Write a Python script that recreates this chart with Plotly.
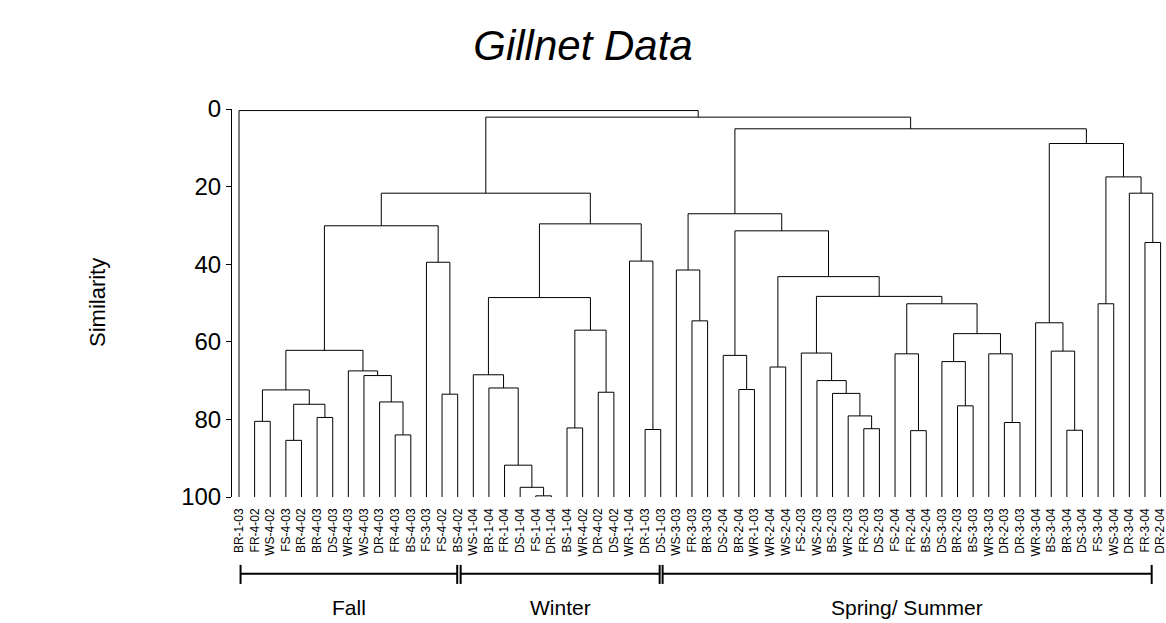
import plotly.graph_objects as go

# ---------------- data ----------------
leaf_labels = [
    "BR-1-03", "FR-4-02", "WS-4-02", "FS-4-03", "BR-4-02", "BR-4-03", "DS-4-03", "WR-4-03",
    "WS-4-03", "DR-4-03", "FR-4-03", "BS-4-03", "FS-3-03", "FS-4-02", "BS-4-02",
    "WS-1-04", "BR-1-04", "FR-1-04", "DS-1-04", "FS-1-04", "DR-1-04", "BS-1-04", "WR-4-02",
    "DR-4-02", "DS-4-02", "WR-1-04", "DR-1-03", "DS-1-03",
    "WS-3-03", "FR-3-03", "BR-3-03", "DS-2-04", "BR-2-04", "WR-1-03", "WR-2-04", "WS-2-04",
    "FS-2-03", "WS-2-03", "BS-2-03", "WR-2-03", "FR-2-03", "DS-2-03", "FS-2-04", "FR-2-04",
    "BS-2-04", "DS-3-03", "BR-2-03", "BS-3-03", "WR-3-03", "DR-2-03", "DR-3-03", "WR-3-04",
    "BS-3-04", "BR-3-04", "DS-3-04", "FS-3-04", "WS-3-04", "DR-3-04", "FR-3-04", "DR-2-04",
]

# merges: (left, right, similarity height); str = leaf label, int = earlier merge index
merges = [
    ("FR-4-02", "WS-4-02", 80.5),   # 0
    ("FS-4-03", "BR-4-02", 85.4),   # 1
    ("BR-4-03", "DS-4-03", 79.5),   # 2
    (1, 2, 76.1),                   # 3
    (0, 3, 72.4),                   # 4
    ("FR-4-03", "BS-4-03", 84.0),   # 5
    ("DR-4-03", 5, 75.5),           # 6
    ("WS-4-03", 6, 68.7),           # 7
    ("WR-4-03", 7, 67.5),           # 8
    (4, 8, 62.2),                   # 9
    ("FS-4-02", "BS-4-02", 73.5),   # 10
    ("FS-3-03", 10, 39.5),          # 11
    (9, 11, 30.1),                  # 12
    ("FS-1-04", "DR-1-04", 99.7),   # 13
    ("DS-1-04", 13, 97.5),          # 14
    ("FR-1-04", 14, 91.8),          # 15
    ("BR-1-04", 15, 71.9),          # 16
    ("WS-1-04", 16, 68.5),          # 17
    ("BS-1-04", "WR-4-02", 82.2),   # 18
    ("DR-4-02", "DS-4-02", 73.0),   # 19
    (18, 19, 57.0),                 # 20
    (17, 20, 48.6),                 # 21
    ("DR-1-03", "DS-1-03", 82.6),   # 22
    ("WR-1-04", 22, 39.2),          # 23
    (21, 23, 29.6),                 # 24
    (12, 24, 21.7),                 # 25
    ("FR-3-03", "BR-3-03", 54.6),   # 26
    ("WS-3-03", 26, 41.5),          # 27
    ("BR-2-04", "WR-1-03", 72.3),   # 28
    ("DS-2-04", 28, 63.5),          # 29
    ("WR-2-04", "WS-2-04", 66.5),   # 30
    ("FR-2-03", "DS-2-03", 82.4),   # 31
    ("WR-2-03", 31, 79.1),          # 32
    ("BS-2-03", 32, 73.3),          # 33
    ("WS-2-03", 33, 70.0),          # 34
    ("FS-2-03", 34, 62.9),          # 35
    ("FR-2-04", "BS-2-04", 82.9),   # 36
    ("FS-2-04", 36, 63.1),          # 37
    ("BR-2-03", "BS-3-03", 76.5),   # 38
    ("DS-3-03", 38, 65.1),          # 39
    ("DR-2-03", "DR-3-03", 80.8),   # 40
    ("WR-3-03", 40, 63.1),          # 41
    (39, 41, 57.9),                 # 42
    (37, 42, 50.2),                 # 43
    (35, 43, 48.3),                 # 44
    (30, 44, 43.2),                 # 45
    (29, 45, 31.4),                 # 46
    (27, 46, 27.0),                 # 47
    ("BR-3-04", "DS-3-04", 82.8),   # 48
    ("BS-3-04", 48, 62.4),          # 49
    ("WR-3-04", 49, 55.1),          # 50
    ("FS-3-04", "WS-3-04", 50.2),   # 51
    ("FR-3-04", "DR-2-04", 34.4),   # 52
    ("DR-3-04", 52, 21.7),          # 53
    (51, 53, 17.5),                 # 54
    (50, 54, 8.9),                  # 55
    (47, 55, 5.1),                  # 56
    (25, 56, 2.1),                  # 57
    ("BR-1-03", 57, 0.4),           # 58
]

group_names = ["Fall", "Winter", "Spring/ Summer"]
group_first = ["BR-1-03", "WS-1-04", "WS-3-03"]
group_last = ["BS-4-02", "DS-1-03", "DR-2-04"]

y_ticks = [0, 20, 40, 60, 80, 100]

# ---------------- build dendrogram segments ----------------
leaf_pos = {lab: i for i, lab in enumerate(leaf_labels)}
node_x, node_h = [], []


def child(c):
    if isinstance(c, str):
        return leaf_pos[c], 100.0
    return node_x[c], node_h[c]


xs, ys = [], []
for left, right, h in merges:
    lx, lh = child(left)
    rx, rh = child(right)
    xs += [lx, lx, rx, rx, None]
    ys += [lh, h, h, rh, None]
    node_x.append((lx + rx) / 2)
    node_h.append(h)

FONT = "Liberation Sans, Arial, sans-serif"

fig = go.Figure()
fig.add_trace(go.Scatter(
    x=xs, y=ys, mode="lines",
    line=dict(color="black", width=1),
    hoverinfo="skip", showlegend=False, cliponaxis=False,
))

W, H = 1166, 623
m_l, m_r, m_t, m_b = 232, 0, 109.3, 126.3
px_per_unit = 15.62
x0 = (m_l - 239) / px_per_unit
x1 = x0 + (W - m_l - m_r) / px_per_unit
plot_w = W - m_l - m_r
plot_h = H - m_t - m_b


def ypaper(py):
    return (H - m_b - py) / plot_h


def xpaper(px):
    return (px - m_l) / plot_w


# group brackets (start/end offsets relative to first/last leaf of each group)
offs = [(0.1, -0.03), (-0.81, -0.07), (-0.88, -0.57)]
for name, a, b, (oa, ob) in zip(group_names, group_first, group_last, offs):
    xa = leaf_pos[a] + oa
    xb = leaf_pos[b] + ob
    fig.add_shape(type="line", xref="x", yref="paper", x0=xa, x1=xb,
                  y0=ypaper(573.3), y1=ypaper(573.3), line=dict(color="black", width=2))
    for xe in (xa, xb):
        fig.add_shape(type="line", xref="x", yref="paper", x0=xe, x1=xe,
                      y0=ypaper(564.5), y1=ypaper(583.5), line=dict(color="black", width=2))
    fig.add_annotation(x=(xa + xb) / 2, y=ypaper(607), xref="x", yref="paper",
                       text=name, showarrow=False, xanchor="center", yanchor="middle",
                       font=dict(family=FONT, size=21, color="black"))

fig.add_annotation(x=xpaper(97), y=ypaper(303), xref="paper", yref="paper",
                   text="Similarity", textangle=-90, showarrow=False,
                   xanchor="center", yanchor="middle",
                   font=dict(family=FONT, size=22, color="black"))

fig.update_layout(
    width=W, height=H,
    margin=dict(l=m_l, r=m_r, t=m_t, b=m_b, pad=0),
    paper_bgcolor="white", plot_bgcolor="white",
    title=dict(text="Gillnet Data", x=0.5, xref="container", xanchor="center",
               y=1 - 45 / H, yref="container", yanchor="middle",
               font=dict(family=FONT, size=42, color="black", style="italic")),
    xaxis=dict(range=[x0, x1], tickvals=list(range(len(leaf_labels))), ticktext=leaf_labels,
               tickangle=-90, ticks="", showline=False, showgrid=False, zeroline=False,
               tickfont=dict(family=FONT, size=12, color="black"), ticklabelstandoff=8,
               ticklabeloverflow="allow"),
    yaxis=dict(range=[100, 0], tickvals=y_ticks, ticks="outside", ticklen=5,
               tickcolor="black", showline=True, linecolor="black", linewidth=1,
               showgrid=False, zeroline=False,
               tickfont=dict(family=FONT, size=24, color="black"), ticklabelstandoff=0),
    showlegend=False,
)

fig.write_html("out.html")
